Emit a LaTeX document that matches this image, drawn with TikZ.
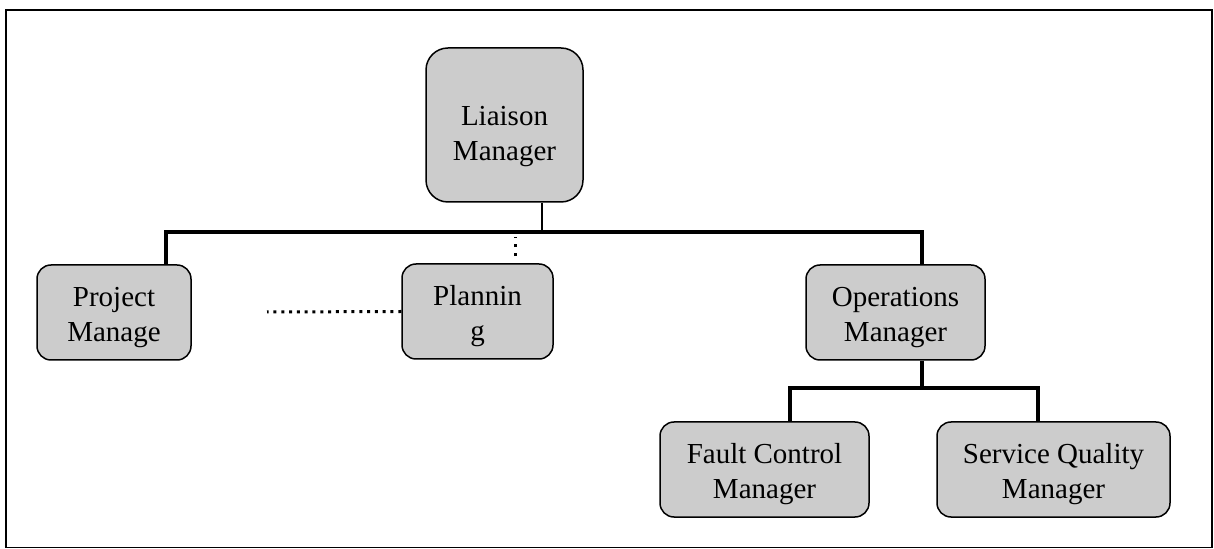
\documentclass[tikz,border=0pt]{standalone}
\usepackage{fontspec}
\setmainfont{Liberation Serif}

\definecolor{boxgray}{gray}{0.8}
\newcommand{\boxlines}[2][2.25pt]{\raisebox{-#1}[\height][\depth]{\begin{tabular}{@{}c@{}}#2\end{tabular}}}

\begin{document}
\begin{tikzpicture}[x = 0.5pt, y = -0.5pt,
	orgbox/.style = {draw, line width = 0.75pt, fill = boxgray, rounded corners = 7pt, inner sep = 0pt, minimum height = 47.5pt, font = \fontsize{14.5}{17.5}\selectfont},
	link/.style = {line width = 1.6pt},
	dots/.style = {line width = 1.5pt, dash pattern = on 1.5pt off 2.4pt}]

	\useasboundingbox (0, 0) rectangle (1214, 549);

	% Outer frame
	
	\draw [line width = 0.8pt] (6, 10) rectangle (1212, 547.5);
	
	% Boxes
	
	\node [orgbox, minimum width = 78.5pt, minimum height = 77pt, rounded corners = 11pt] (liaison) at (504.5, 125) {\boxlines[5.75pt]{Liaison\\Manager}};
	\node [orgbox, minimum width = 77pt] (project) at (114, 312.5) {\boxlines[2.5pt]{Project\\Manage}};
	\node [orgbox, minimum width = 75.5pt] (planning) at (477.5, 311.5) {\boxlines[2.5pt]{Plannin\\g}};
	\node [orgbox, minimum width = 89.5pt] (ops) at (895.5, 312.5) {\boxlines{Operations\\Manager}};
	\node [orgbox, minimum width = 104.5pt] (fault) at (764.5, 469.5) {\boxlines{Fault Control\\Manager}};
	\node [orgbox, minimum width = 116.5pt] (service) at (1053.5, 469.5) {\boxlines{Service Quality\\Manager}};
	
	% Top level bus
	
	\coordinate (bus) at (542, 232);
	\draw [link, line width = 1.1pt] ([xshift = 18.75pt] liaison.south) -- (bus);
	\draw [link] ([xshift = 26pt] project.north) |- (bus) -| ([xshift = 13.25pt] ops.north);
	
	% Operations bus
	
	\coordinate (subbus) at (922, 388);
	\draw [link] ([xshift = 13.25pt] ops.south) -- (subbus);
	\draw [link] ([xshift = 12.75pt] fault.north) |- (subbus) -| ([xshift = -7.75pt] service.north);
	
	% Dotted links to planning
	
	\coordinate (plantop) at (515, 237);
	\coordinate (planleft) at (267, 312);
	\draw [dots, dash pattern = on 1.5pt off 3pt] ([xshift = 18.75pt, yshift = 3.5pt] planning.north) -- (plantop);
	\draw [dots] (planning.west) -- (planleft);

\end{tikzpicture}
\end{document}
